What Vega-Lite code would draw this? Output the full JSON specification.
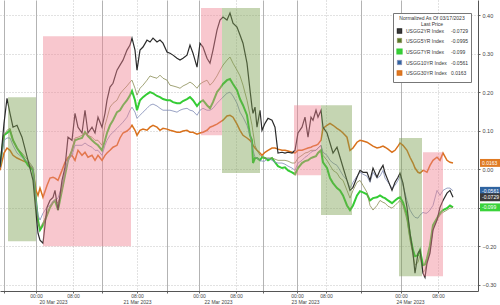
{
  "$schema": "https://vega.github.io/schema/vega-lite/v6.json",
  "width": 478,
  "height": 291,
  "autosize": {"type": "none"},
  "padding": {"left": 0, "top": 0, "right": 22, "bottom": 14},
  "background": "white",
  "config": {
    "view": {"stroke": null},
    "font": "Liberation Sans",
    "legend": {
      "orient": "none", "legendX": 393, "legendY": 13,
      "titleFontSize": 5, "titleFontWeight": "normal", "titleColor": "#333",
      "titleAnchor": "middle", "titleAlign": "center", "titlePadding": 1, "titleLineHeight": 6,
      "labelFontSize": 5, "labelColor": "#333", "labelOffset": 3,
      "symbolType": "square", "symbolSize": 18, "symbolStrokeWidth": 0, "symbolOpacity": 1,
      "rowPadding": 0.5, "padding": 3,
      "fillColor": "#ffffff", "strokeColor": "#777"
    }
  },
  "datasets": {
    "series": [
      {"t":0,"a":0.005,"b":0.005,"c":0.008,"d":0.003,"e":-0.003},
      {"t":4,"a":0.119,"b":0.088,"c":0.088,"d":0.075,"e":0.042},
      {"t":7,"a":0.184,"b":0.101,"c":0.094,"d":0.081,"e":0.055},
      {"t":10,"a":0.145,"b":0.106,"c":0.101,"d":0.081,"e":0.049},
      {"t":13,"a":0.109,"b":0.075,"c":0.075,"d":0.062,"e":0.036},
      {"t":17,"a":0.114,"b":0.055,"c":0.055,"d":0.042,"e":0.029},
      {"t":22,"a":0.083,"b":0.042,"c":0.036,"d":0.031,"e":0.023},
      {"t":28,"a":0.023,"b":0.023,"c":0.010,"d":0.018,"e":0.016},
      {"t":33,"a":-0.029,"b":0.005,"c":-0.003,"d":0.003,"e":-0.003},
      {"t":36,"a":-0.114,"b":-0.081,"c":-0.081,"d":-0.081,"e":-0.055},
      {"t":38,"a":-0.166,"b":-0.138,"c":-0.132,"d":-0.119,"e":-0.068},
      {"t":40,"a":-0.184,"b":-0.153,"c":-0.158,"d":-0.132,"e":-0.049},
      {"t":43,"a":-0.192,"b":-0.138,"c":-0.145,"d":-0.114,"e":-0.073},
      {"t":47,"a":-0.099,"b":-0.119,"c":-0.119,"d":-0.099,"e":-0.042},
      {"t":50,"a":-0.081,"b":-0.099,"c":-0.099,"d":-0.094,"e":-0.023},
      {"t":53,"a":-0.073,"b":-0.086,"c":-0.086,"d":-0.083,"e":-0.021},
      {"t":55,"a":-0.055,"b":-0.081,"c":-0.081,"d":-0.081,"e":-0.023},
      {"t":58,"a":-0.106,"b":-0.088,"c":-0.106,"d":-0.075,"e":-0.029},
      {"t":62,"a":-0.029,"b":-0.055,"c":-0.055,"d":-0.042,"e":-0.003},
      {"t":65,"a":0.005,"b":-0.010,"c":-0.016,"d":-0.003,"e":0.018},
      {"t":68,"a":0.083,"b":0.023,"c":0.023,"d":0.023,"e":0.031},
      {"t":72,"a":0.075,"b":0.049,"c":0.049,"d":0.036,"e":0.036},
      {"t":75,"a":0.145,"b":0.081,"c":0.075,"d":0.062,"e":0.023},
      {"t":78,"a":0.109,"b":0.083,"c":0.078,"d":0.062,"e":0.049},
      {"t":82,"a":0.094,"b":0.088,"c":0.081,"d":0.062,"e":0.036},
      {"t":85,"a":0.153,"b":0.094,"c":0.096,"d":0.068,"e":0.044},
      {"t":88,"a":0.094,"b":0.088,"c":0.086,"d":0.062,"e":0.031},
      {"t":92,"a":0.109,"b":0.083,"c":0.075,"d":0.057,"e":0.036},
      {"t":95,"a":0.094,"b":0.075,"c":0.068,"d":0.049,"e":0.023},
      {"t":98,"a":0.135,"b":0.075,"c":0.062,"d":0.049,"e":0.036},
      {"t":102,"a":0.109,"b":0.062,"c":0.049,"d":0.036,"e":0.023},
      {"t":105,"a":0.145,"b":0.114,"c":0.075,"d":0.062,"e":0.036},
      {"t":107,"a":0.179,"b":0.132,"c":0.094,"d":0.075,"e":0.042},
      {"t":110,"a":0.213,"b":0.161,"c":0.114,"d":0.088,"e":0.049},
      {"t":113,"a":0.223,"b":0.171,"c":0.127,"d":0.096,"e":0.057},
      {"t":117,"a":0.257,"b":0.179,"c":0.148,"d":0.106,"e":0.062},
      {"t":120,"a":0.270,"b":0.195,"c":0.153,"d":0.114,"e":0.081},
      {"t":123,"a":0.283,"b":0.205,"c":0.166,"d":0.122,"e":0.094},
      {"t":127,"a":0.309,"b":0.216,"c":0.179,"d":0.135,"e":0.099},
      {"t":130,"a":0.322,"b":0.226,"c":0.192,"d":0.153,"e":0.106},
      {"t":132,"a":0.340,"b":0.231,"c":0.203,"d":0.161,"e":0.114},
      {"t":135,"a":0.309,"b":0.210,"c":0.179,"d":0.148,"e":0.101},
      {"t":137,"a":0.257,"b":0.192,"c":0.153,"d":0.132,"e":0.088},
      {"t":140,"a":0.309,"b":0.210,"c":0.179,"d":0.140,"e":0.101},
      {"t":143,"a":0.317,"b":0.218,"c":0.187,"d":0.148,"e":0.104},
      {"t":147,"a":0.335,"b":0.231,"c":0.195,"d":0.158,"e":0.101},
      {"t":150,"a":0.330,"b":0.242,"c":0.200,"d":0.166,"e":0.109},
      {"t":153,"a":0.340,"b":0.239,"c":0.197,"d":0.169,"e":0.114},
      {"t":157,"a":0.330,"b":0.236,"c":0.190,"d":0.164,"e":0.109},
      {"t":160,"a":0.335,"b":0.244,"c":0.187,"d":0.158,"e":0.101},
      {"t":163,"a":0.327,"b":0.236,"c":0.182,"d":0.153,"e":0.106},
      {"t":167,"a":0.304,"b":0.231,"c":0.179,"d":0.153,"e":0.104},
      {"t":170,"a":0.301,"b":0.218,"c":0.179,"d":0.153,"e":0.101},
      {"t":173,"a":0.296,"b":0.216,"c":0.174,"d":0.151,"e":0.099},
      {"t":177,"a":0.288,"b":0.213,"c":0.171,"d":0.148,"e":0.096},
      {"t":180,"a":0.283,"b":0.210,"c":0.171,"d":0.153,"e":0.096},
      {"t":183,"a":0.288,"b":0.216,"c":0.177,"d":0.156,"e":0.099},
      {"t":187,"a":0.296,"b":0.221,"c":0.182,"d":0.158,"e":0.101},
      {"t":190,"a":0.322,"b":0.226,"c":0.187,"d":0.153,"e":0.096},
      {"t":193,"a":0.301,"b":0.221,"c":0.179,"d":0.151,"e":0.096},
      {"t":197,"a":0.265,"b":0.210,"c":0.164,"d":0.140,"e":0.091},
      {"t":200,"a":0.327,"b":0.221,"c":0.174,"d":0.153,"e":0.094},
      {"t":203,"a":0.317,"b":0.226,"c":0.179,"d":0.158,"e":0.096},
      {"t":207,"a":0.288,"b":0.231,"c":0.166,"d":0.153,"e":0.101},
      {"t":210,"a":0.275,"b":0.218,"c":0.158,"d":0.153,"e":0.109},
      {"t":213,"a":0.309,"b":0.226,"c":0.174,"d":0.158,"e":0.112},
      {"t":217,"a":0.361,"b":0.242,"c":0.200,"d":0.171,"e":0.117},
      {"t":220,"a":0.387,"b":0.257,"c":0.210,"d":0.179,"e":0.122},
      {"t":223,"a":0.395,"b":0.270,"c":0.221,"d":0.187,"e":0.127},
      {"t":227,"a":0.387,"b":0.283,"c":0.231,"d":0.197,"e":0.138},
      {"t":230,"a":0.405,"b":0.291,"c":0.234,"d":0.200,"e":0.140},
      {"t":233,"a":0.379,"b":0.275,"c":0.221,"d":0.190,"e":0.135},
      {"t":237,"a":0.369,"b":0.257,"c":0.205,"d":0.171,"e":0.117},
      {"t":240,"a":0.348,"b":0.242,"c":0.182,"d":0.148,"e":0.101},
      {"t":243,"a":0.327,"b":0.218,"c":0.166,"d":0.135,"e":0.088},
      {"t":247,"a":0.275,"b":0.179,"c":0.140,"d":0.114,"e":0.081},
      {"t":250,"a":0.205,"b":0.140,"c":0.088,"d":0.088,"e":0.075},
      {"t":252,"a":0.161,"b":0.114,"c":0.075,"d":0.062,"e":0.068},
      {"t":253,"a":0.145,"b":0.096,"c":0.016,"d":0.049,"e":0.062},
      {"t":255,"a":0.161,"b":0.062,"c":0.029,"d":0.031,"e":0.055},
      {"t":257,"a":0.109,"b":0.049,"c":0.029,"d":0.029,"e":0.049},
      {"t":260,"a":0.153,"b":0.036,"c":0.023,"d":0.023,"e":0.042},
      {"t":262,"a":0.101,"b":0.031,"c":0.031,"d":0.021,"e":0.036},
      {"t":265,"a":0.119,"b":0.029,"c":0.029,"d":0.021,"e":0.044},
      {"t":268,"a":0.132,"b":0.029,"c":0.023,"d":0.029,"e":0.049},
      {"t":272,"a":0.127,"b":0.029,"c":0.029,"d":0.023,"e":0.055},
      {"t":275,"a":0.109,"b":0.026,"c":0.018,"d":0.018,"e":0.055},
      {"t":278,"a":0.042,"b":0.023,"c":0.008,"d":0.016,"e":0.052},
      {"t":282,"a":0.044,"b":0.023,"c":0.003,"d":0.016,"e":0.049},
      {"t":285,"a":0.042,"b":0.023,"c":0.005,"d":0.013,"e":0.049},
      {"t":288,"a":0.044,"b":0.021,"c":-0.003,"d":0.008,"e":0.047},
      {"t":292,"a":0.042,"b":0.016,"c":-0.008,"d":0.003,"e":0.044},
      {"t":295,"a":0.049,"b":0.016,"c":-0.013,"d":-0.003,"e":0.042},
      {"t":298,"a":0.094,"b":0.029,"c":0.003,"d":0.016,"e":0.049},
      {"t":302,"a":0.109,"b":0.036,"c":0.016,"d":0.023,"e":0.049},
      {"t":305,"a":0.135,"b":0.042,"c":0.021,"d":0.031,"e":0.052},
      {"t":308,"a":0.083,"b":0.044,"c":0.023,"d":0.036,"e":0.055},
      {"t":311,"a":0.135,"b":0.049,"c":0.029,"d":0.044,"e":0.057},
      {"t":313,"a":0.127,"b":0.049,"c":0.031,"d":0.047,"e":0.060},
      {"t":316,"a":0.153,"b":0.049,"c":0.034,"d":0.049,"e":0.062},
      {"t":318,"a":0.135,"b":0.055,"c":0.042,"d":0.055,"e":0.065},
      {"t":321,"a":0.153,"b":0.062,"c":0.049,"d":0.062,"e":0.075},
      {"t":323,"a":0.109,"b":0.036,"c":0.018,"d":0.044,"e":0.106},
      {"t":327,"a":0.094,"b":0.023,"c":0.003,"d":0.036,"e":0.114},
      {"t":330,"a":0.068,"b":0.010,"c":-0.023,"d":0.023,"e":0.119},
      {"t":333,"a":0.042,"b":-0.003,"c":-0.036,"d":0.016,"e":0.114},
      {"t":337,"a":0.057,"b":-0.010,"c":-0.049,"d":0.010,"e":0.106},
      {"t":340,"a":0.031,"b":-0.023,"c":-0.055,"d":-0.003,"e":0.101},
      {"t":343,"a":0.005,"b":-0.029,"c":-0.068,"d":-0.016,"e":0.094},
      {"t":347,"a":-0.029,"b":-0.055,"c":-0.094,"d":-0.029,"e":0.083},
      {"t":350,"a":-0.055,"b":-0.075,"c":-0.106,"d":-0.049,"e":0.049},
      {"t":353,"a":-0.047,"b":-0.055,"c":-0.094,"d":-0.034,"e":0.055},
      {"t":357,"a":-0.021,"b":-0.034,"c":-0.068,"d":-0.018,"e":0.070},
      {"t":360,"a":-0.003,"b":-0.029,"c":-0.057,"d":-0.008,"e":0.075},
      {"t":363,"a":-0.008,"b":-0.042,"c":-0.060,"d":-0.013,"e":0.073},
      {"t":367,"a":-0.008,"b":-0.060,"c":-0.065,"d":-0.018,"e":0.070},
      {"t":370,"a":-0.029,"b":-0.094,"c":-0.081,"d":-0.034,"e":0.065},
      {"t":373,"a":0.003,"b":-0.106,"c":-0.075,"d":-0.008,"e":0.060},
      {"t":377,"a":-0.021,"b":-0.094,"c":-0.073,"d":-0.023,"e":0.055},
      {"t":380,"a":-0.003,"b":-0.081,"c":-0.068,"d":-0.018,"e":0.057},
      {"t":383,"a":0.010,"b":-0.086,"c":-0.073,"d":-0.003,"e":0.060},
      {"t":385,"a":-0.010,"b":-0.088,"c":-0.075,"d":-0.023,"e":0.057},
      {"t":388,"a":-0.029,"b":-0.096,"c":-0.081,"d":-0.034,"e":0.052},
      {"t":392,"a":-0.055,"b":-0.101,"c":-0.088,"d":-0.049,"e":0.044},
      {"t":395,"a":-0.034,"b":-0.094,"c":-0.081,"d":-0.042,"e":0.049},
      {"t":398,"a":-0.021,"b":-0.086,"c":-0.075,"d":-0.029,"e":0.060},
      {"t":400,"a":-0.010,"b":-0.081,"c":-0.073,"d":-0.018,"e":0.068},
      {"t":403,"a":-0.036,"b":-0.094,"c":-0.086,"d":-0.042,"e":0.062},
      {"t":407,"a":-0.099,"b":-0.132,"c":-0.119,"d":-0.081,"e":0.049},
      {"t":410,"a":-0.166,"b":-0.184,"c":-0.171,"d":-0.106,"e":0.031},
      {"t":413,"a":-0.218,"b":-0.223,"c":-0.210,"d":-0.119,"e":0.016},
      {"t":415,"a":-0.270,"b":-0.249,"c":-0.226,"d":-0.125,"e":0.003},
      {"t":418,"a":-0.218,"b":-0.242,"c":-0.223,"d":-0.127,"e":-0.008},
      {"t":420,"a":-0.210,"b":-0.223,"c":-0.210,"d":-0.119,"e":-0.010},
      {"t":423,"a":-0.270,"b":-0.268,"c":-0.249,"d":-0.112,"e":-0.003},
      {"t":425,"a":-0.281,"b":-0.262,"c":-0.247,"d":-0.114,"e":-0.005},
      {"t":427,"a":-0.244,"b":-0.242,"c":-0.231,"d":-0.114,"e":-0.008},
      {"t":430,"a":-0.218,"b":-0.210,"c":-0.197,"d":-0.106,"e":0.010},
      {"t":433,"a":-0.158,"b":-0.153,"c":-0.145,"d":-0.094,"e":0.023},
      {"t":437,"a":-0.132,"b":-0.132,"c":-0.127,"d":-0.055,"e":0.031},
      {"t":440,"a":-0.099,"b":-0.119,"c":-0.114,"d":-0.068,"e":0.023},
      {"t":443,"a":-0.081,"b":-0.112,"c":-0.106,"d":-0.055,"e":0.042},
      {"t":447,"a":-0.062,"b":-0.106,"c":-0.101,"d":-0.049,"e":0.023},
      {"t":450,"a":-0.055,"b":-0.101,"c":-0.094,"d":-0.049,"e":0.018},
      {"t":453,"a":-0.0729,"b":-0.0995,"c":-0.099,"d":-0.0561,"e":0.0163}
    ],
    "bands": [
      {"k":"g","t0":8,"t1":36,"v0":0.187,"v1":-0.187},
      {"k":"p","t0":43,"t1":131,"v0":0.345,"v1":-0.200},
      {"k":"p","t0":201,"t1":222,"v0":0.418,"v1":0.088},
      {"k":"g","t0":222,"t1":260,"v0":0.418,"v1":-0.010},
      {"k":"p","t0":294,"t1":321,"v0":0.166,"v1":-0.016},
      {"k":"g","t0":321,"t1":352,"v0":0.166,"v1":-0.119},
      {"k":"g","t0":399,"t1":422,"v0":0.081,"v1":-0.278},
      {"k":"p","t0":423,"t1":443,"v0":0.044,"v1":-0.278}
    ],
    "last": [
      {"s":"e","v":0.0163,"lab":"0.0163"},
      {"s":"d","v":-0.0561,"lab":"-0.0561"},
      {"s":"a","v":-0.0729,"lab":"-0.0729"},
      {"s":"c","v":-0.099,"lab":"-0.099"}
    ]
  },
  "resolve": {"scale": {"x": "shared"}, "axis": {"x": "independent"}},
  "layer": [
    {
      "data": {"name": "series"},
      "transform": [{"fold": ["e", "c", "b", "d", "a"], "as": ["s", "v"]}],
      "mark": {"type": "line", "interpolate": "linear"},
      "encoding": {
        "x": {
          "field": "t", "type": "quantitative",
          "scale": {"domain": [0, 478], "nice": false, "zero": false},
          "axis": {
            "title": null,
            "values": [4, 36, 73, 102, 137, 167, 199, 236, 263, 297, 326, 361, 401, 438],
            "labelExpr": "indexof([36,199,297,401], datum.value) >= 0 ? '00:00' : (indexof([73,137,236,326,438], datum.value) >= 0 ? '08:00' : '')",
            "labelFlush": false, "labelOverlap": false,
            "labelFontSize": 5, "labelColor": "#444", "labelPadding": 0,
            "tickSize": 2, "tickColor": "#666", "domainColor": "#555",
            "grid": true,
            "gridDash": {"condition": {"test": "indexof([73,137,236,326,438], datum.value) >= 0", "value": [1, 2]}, "value": []},
            "gridColor": {"condition": {"test": "indexof([73,137,236,326,438], datum.value) >= 0", "value": "#b5b5b5"}, "value": "#a0a0a0"},
            "gridWidth": 0.8
          }
        },
        "y": {
          "field": "v", "type": "quantitative",
          "scale": {"domain": [-0.316, 0.439], "nice": false, "zero": false},
          "axis": {
            "title": null, "orient": "right",
            "values": [-0.3, -0.2, -0.1, 0, 0.1, 0.2, 0.3, 0.4],
            "format": ".2f",
            "labelFontSize": 5.5, "labelColor": "#444", "labelPadding": 2,
            "tickSize": 2, "tickColor": "#666", "domainColor": "#555",
            "grid": true, "gridDash": [1, 2], "gridColor": "#b5b5b5", "gridWidth": 0.8
          }
        },
        "stroke": {
          "field": "s", "type": "nominal",
          "scale": {"domain": ["a", "b", "c", "d", "e"], "range": ["#2b2b2b", "#8a8d55", "#35cc35", "#7f8ab5", "#d9711c"]},
          "legend": {
            "title": ["Normalized As Of 03/17/2023", "Last Price"],
            "labelExpr": "datum.label == 'a' ? 'USGG2YR Index\u00a0\u00a0\u00a0\u00a0\u00a0-0.0729' : datum.label == 'b' ? 'USGG5YR Index\u00a0\u00a0\u00a0\u00a0\u00a0-0.0995' : datum.label == 'c' ? 'USGG7YR Index\u00a0\u00a0\u00a0\u00a0\u00a0-0.099' : datum.label == 'd' ? 'USGG10YR Index\u00a0\u00a0\u00a0-0.0561' : 'USGG30YR Index\u00a0\u00a0\u00a00.0163'"
          }
        },
        "strokeWidth": {
          "field": "s", "type": "ordinal",
          "scale": {"type": "ordinal", "domain": ["a", "b", "c", "d", "e"], "range": [1.2, 0.8, 2.0, 0.8, 1.5]},
          "legend": null
        }
      }
    },
    {
      "data": {"name": "bands"},
      "mark": {"type": "rect", "fillOpacity": 0.44, "strokeWidth": 0},
      "encoding": {
        "x": {
          "field": "t0", "type": "quantitative",
          "scale": {"domain": [0, 478], "nice": false, "zero": false},
          "axis": {
            "title": null, "orient": "bottom",
            "values": [53, 137, 218, 305, 410],
            "labelExpr": "datum.value == 53 ? '20 Mar 2023' : datum.value == 137 ? '21 Mar 2023' : datum.value == 218 ? '22 Mar 2023' : datum.value == 305 ? '23 Mar 2023' : '24 Mar 2023'",
            "labelFlush": false, "labelOverlap": false,
            "labelFontSize": 5, "labelColor": "#444", "labelPadding": 8.5,
            "ticks": false, "domain": false, "grid": false
          }
        },
        "x2": {"field": "t1"},
        "y": {"field": "v0", "type": "quantitative", "title": null, "scale": {"domain": [-0.316, 0.439], "nice": false, "zero": false}},
        "y2": {"field": "v1"},
        "fill": {
          "field": "k", "type": "nominal",
          "scale": {"domain": ["g", "p"], "range": ["#7aa050", "#ee8090"]},
          "legend": null
        }
      }
    },
    {
      "data": {"name": "last"},
      "mark": {"type": "point", "filled": true, "opacity": 1, "shape": "M-1,-0.36L1,-0.36L1,0.36L-1,0.36Z", "size": 484, "strokeWidth": 0},
      "encoding": {
        "x": {"datum": 491, "type": "quantitative", "scale": {"domain": [0, 478], "nice": false, "zero": false}, "axis": null},
        "y": {"field": "v", "type": "quantitative", "title": null, "scale": {"domain": [-0.316, 0.439], "nice": false, "zero": false}},
        "color": {
          "field": "s", "type": "nominal",
          "scale": {"domain": ["a", "b", "c", "d", "e"], "range": ["#3a3a3a", "#55792a", "#3ad33a", "#2f64a0", "#e07a22"]},
          "legend": {
            "title": ["Normalized As Of 03/17/2023", "Last Price"],
            "labelExpr": "datum.label == 'a' ? 'USGG2YR Index\u00a0\u00a0\u00a0\u00a0\u00a0-0.0729' : datum.label == 'b' ? 'USGG5YR Index\u00a0\u00a0\u00a0\u00a0\u00a0-0.0995' : datum.label == 'c' ? 'USGG7YR Index\u00a0\u00a0\u00a0\u00a0\u00a0-0.099' : datum.label == 'd' ? 'USGG10YR Index\u00a0\u00a0\u00a0-0.0561' : 'USGG30YR Index\u00a0\u00a0\u00a00.0163'"
          }
        }
      }
    },
    {
      "data": {"name": "last"},
      "mark": {"type": "text", "align": "left", "baseline": "middle", "fontSize": 5, "color": "white"},
      "encoding": {
        "x": {"datum": 482, "type": "quantitative", "scale": {"domain": [0, 478], "nice": false, "zero": false}, "axis": null},
        "y": {"field": "v", "type": "quantitative", "title": null, "scale": {"domain": [-0.316, 0.439], "nice": false, "zero": false}},
        "text": {"field": "lab"}
      }
    }
  ]
}
